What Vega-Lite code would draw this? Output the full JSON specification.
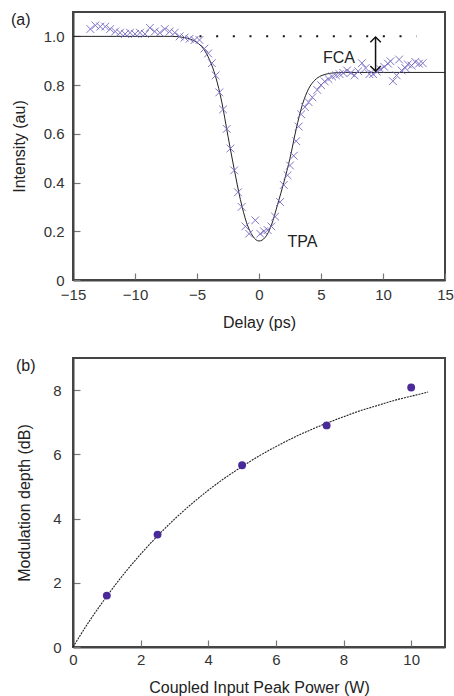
{
  "$schema": "https://vega.github.io/schema/vega-lite/v6.json",
  "padding": {"left": 10, "top": 11, "right": 5, "bottom": 0},
  "background": "white",
  "spacing": 26,
  "config": {
    "font": "Liberation Sans",
    "view": {"stroke": "#444", "strokeWidth": 2},
    "axis": {
      "grid": false,
      "labelFont": "Liberation Sans",
      "labelFontSize": 15,
      "labelColor": "#333",
      "titleFont": "Liberation Sans",
      "titleFontSize": 16,
      "titleFontWeight": "normal",
      "titleColor": "#222",
      "tickColor": "#777",
      "tickWidth": 1.2,
      "tickSize": -7,
      "domainColor": "#444",
      "domainWidth": 2,
      "labelFlush": false,
      "labelOverlap": false
    },
    "title": {"fontSize": 16, "fontWeight": "normal", "font": "Liberation Sans", "anchor": "start", "frame": "bounds", "color": "#222", "offset": 0}
  },
  "datasets": {
    "fitA": [
      {"t": -15, "I": 1.0}, {"t": -7, "I": 1.0}, {"t": -6, "I": 0.995}, {"t": -5.5, "I": 0.988},
      {"t": -5, "I": 0.975}, {"t": -4.5, "I": 0.95}, {"t": -4, "I": 0.905}, {"t": -3.5, "I": 0.835},
      {"t": -3, "I": 0.73}, {"t": -2.5, "I": 0.59}, {"t": -2, "I": 0.455}, {"t": -1.5, "I": 0.33},
      {"t": -1, "I": 0.235}, {"t": -0.5, "I": 0.18}, {"t": 0, "I": 0.16}, {"t": 0.5, "I": 0.175},
      {"t": 1, "I": 0.225}, {"t": 1.5, "I": 0.31}, {"t": 2, "I": 0.40}, {"t": 2.5, "I": 0.50},
      {"t": 3, "I": 0.62}, {"t": 3.5, "I": 0.72}, {"t": 4, "I": 0.785}, {"t": 4.5, "I": 0.82},
      {"t": 5, "I": 0.838}, {"t": 5.5, "I": 0.846}, {"t": 6, "I": 0.85}, {"t": 7, "I": 0.852}, {"t": 15, "I": 0.852}
    ],
    "dataA": [
      {"t": -13.6, "I": 1.03}, {"t": -13.2, "I": 1.045}, {"t": -12.8, "I": 1.04}, {"t": -12.4, "I": 1.04},
      {"t": -12.0, "I": 1.03}, {"t": -11.6, "I": 1.02}, {"t": -11.2, "I": 1.015}, {"t": -10.8, "I": 1.01},
      {"t": -10.4, "I": 1.015}, {"t": -10.0, "I": 1.01}, {"t": -9.6, "I": 1.015}, {"t": -9.2, "I": 1.01},
      {"t": -8.8, "I": 1.035}, {"t": -8.4, "I": 1.02}, {"t": -8.0, "I": 1.015}, {"t": -7.6, "I": 1.03},
      {"t": -7.2, "I": 1.02}, {"t": -6.8, "I": 1.015}, {"t": -6.4, "I": 1.0}, {"t": -6.0, "I": 0.995},
      {"t": -5.6, "I": 0.99}, {"t": -5.2, "I": 0.985}, {"t": -4.8, "I": 0.985},
      {"t": -4.4, "I": 0.95}, {"t": -4.1, "I": 0.93}, {"t": -3.8, "I": 0.89}, {"t": -3.5, "I": 0.84},
      {"t": -3.2, "I": 0.77}, {"t": -2.9, "I": 0.70}, {"t": -2.6, "I": 0.62}, {"t": -2.3, "I": 0.54},
      {"t": -2.0, "I": 0.45}, {"t": -1.7, "I": 0.36}, {"t": -1.4, "I": 0.30}, {"t": -1.1, "I": 0.22},
      {"t": -0.8, "I": 0.19}, {"t": -0.3, "I": 0.245}, {"t": 0.1, "I": 0.19}, {"t": 0.4, "I": 0.20},
      {"t": 0.7, "I": 0.205}, {"t": 1.0, "I": 0.22}, {"t": 1.3, "I": 0.26}, {"t": 1.7, "I": 0.32},
      {"t": 2.0, "I": 0.39}, {"t": 2.3, "I": 0.43}, {"t": 2.5, "I": 0.47}, {"t": 2.8, "I": 0.51},
      {"t": 3.0, "I": 0.57}, {"t": 3.2, "I": 0.63}, {"t": 3.4, "I": 0.68}, {"t": 3.7, "I": 0.71},
      {"t": 4.0, "I": 0.73}, {"t": 4.3, "I": 0.75}, {"t": 4.7, "I": 0.78}, {"t": 5.0, "I": 0.80},
      {"t": 5.3, "I": 0.815}, {"t": 5.6, "I": 0.825}, {"t": 5.9, "I": 0.835}, {"t": 6.2, "I": 0.84},
      {"t": 6.5, "I": 0.845}, {"t": 6.8, "I": 0.85}, {"t": 7.1, "I": 0.86}, {"t": 7.4, "I": 0.85},
      {"t": 7.7, "I": 0.84}, {"t": 8.0, "I": 0.857}, {"t": 8.3, "I": 0.89}, {"t": 8.6, "I": 0.87},
      {"t": 8.9, "I": 0.845}, {"t": 9.2, "I": 0.845}, {"t": 9.5, "I": 0.855}, {"t": 9.8, "I": 0.865},
      {"t": 10.1, "I": 0.875}, {"t": 10.4, "I": 0.888}, {"t": 10.6, "I": 0.898}, {"t": 10.8, "I": 0.816},
      {"t": 11.1, "I": 0.84}, {"t": 11.3, "I": 0.905}, {"t": 11.5, "I": 0.86}, {"t": 11.8, "I": 0.87},
      {"t": 12.0, "I": 0.885}, {"t": 12.3, "I": 0.88}, {"t": 12.6, "I": 0.895}, {"t": 12.9, "I": 0.888},
      {"t": 13.2, "I": 0.89}
    ],
    "dotsA": [{"t": -4.8, "t2": 12.7, "I": 1.0}],
    "arrowA": [{"t": 9.4, "I": 0.857, "I2": 0.997}],
    "headUp": [{"t": 9.4, "I": 0.997}],
    "headDown": [{"t": 9.4, "I": 0.857}],
    "labelsA": [{"t": 6.45, "I": 0.91, "txt": "FCA"}, {"t": 3.5, "I": 0.155, "txt": "TPA"}],
    "fitB": [
      {"P": 0, "M": 0}, {"P": 0.5, "M": 0.83}, {"P": 1, "M": 1.58}, {"P": 1.5, "M": 2.27},
      {"P": 2, "M": 2.89}, {"P": 2.5, "M": 3.46}, {"P": 3, "M": 3.98}, {"P": 3.5, "M": 4.45},
      {"P": 4, "M": 4.88}, {"P": 4.5, "M": 5.27}, {"P": 5, "M": 5.62}, {"P": 5.5, "M": 5.95},
      {"P": 6, "M": 6.24}, {"P": 6.5, "M": 6.51}, {"P": 7, "M": 6.75}, {"P": 7.5, "M": 6.97},
      {"P": 8, "M": 7.17}, {"P": 8.5, "M": 7.36}, {"P": 9, "M": 7.52}, {"P": 9.5, "M": 7.68},
      {"P": 10, "M": 7.81}, {"P": 10.5, "M": 7.94}
    ],
    "dataB": [
      {"P": 1, "M": 1.6}, {"P": 2.5, "M": 3.5}, {"P": 5, "M": 5.66}, {"P": 7.5, "M": 6.9}, {"P": 10, "M": 8.08}
    ]
  },
  "vconcat": [
    {
      "width": 372,
      "height": 268,
      "title": {"text": "(a)", "dy": 20},
      "layer": [
        {
          "data": {"name": "fitA"},
          "mark": {"type": "line", "color": "#222", "strokeWidth": 1, "interpolate": "monotone"},
          "encoding": {
            "x": {"field": "t", "type": "quantitative", "scale": {"domain": [-15, 15], "nice": false},
              "axis": {"orient": "bottom", "values": [-15, -10, -5, 0, 5, 10, 15], "title": "Delay (ps)",
                "domain": true, "ticks": true,
                "titleY": 47, "titleBaseline": "alphabetic", "labelPadding": 14.5}},
            "y": {"field": "I", "type": "quantitative", "scale": {"domain": [0, 1.1], "nice": false},
              "axis": {"orient": "left", "values": [0, 0.2, 0.4, 0.6, 0.8, 1.0], "title": "Intensity (au)",
                "domain": true, "ticks": true,
                "labelExpr": "datum.value == 0 ? '0' : format(datum.value, '.1f')",
                "titleX": -49, "titleBaseline": "alphabetic", "labelPadding": 16}}
          }
        },
        {
          "data": {"name": "dataA"},
          "mark": {"type": "point", "shape": "M-1,-1L1,1M-1,1L1,-1", "filled": false, "size": 60, "color": "#7368c2", "strokeWidth": 1, "opacity": 0.9},
          "encoding": {
            "x": {"field": "t", "type": "quantitative"},
            "y": {"field": "I", "type": "quantitative"}
          }
        },
        {
          "data": {"name": "dotsA"},
          "mark": {"type": "rule", "color": "#111", "strokeWidth": 2, "strokeDash": [2, 14.67]},
          "encoding": {
            "x": {"field": "t", "type": "quantitative"},
            "x2": {"field": "t2"},
            "y": {"field": "I", "type": "quantitative"}
          }
        },
        {
          "data": {"name": "arrowA"},
          "mark": {"type": "rule", "color": "#111", "strokeWidth": 1.5},
          "encoding": {
            "x": {"field": "t", "type": "quantitative"},
            "y": {"field": "I", "type": "quantitative"},
            "y2": {"field": "I2"}
          }
        },
        {
          "data": {"name": "headUp"},
          "mark": {"type": "point", "shape": "M-1,1L0,0L1,1", "filled": false, "size": 110, "color": "#111", "strokeWidth": 1.5, "opacity": 1},
          "encoding": {
            "x": {"field": "t", "type": "quantitative"},
            "y": {"field": "I", "type": "quantitative"}
          }
        },
        {
          "data": {"name": "headDown"},
          "mark": {"type": "point", "shape": "M-1,-1L0,0L1,-1", "filled": false, "size": 110, "color": "#111", "strokeWidth": 1.5, "opacity": 1},
          "encoding": {
            "x": {"field": "t", "type": "quantitative"},
            "y": {"field": "I", "type": "quantitative"}
          }
        },
        {
          "data": {"name": "labelsA"},
          "mark": {"type": "text", "fontSize": 16, "color": "#222", "align": "center", "baseline": "middle", "font": "Liberation Sans"},
          "encoding": {
            "x": {"field": "t", "type": "quantitative"},
            "y": {"field": "I", "type": "quantitative"},
            "text": {"field": "txt"}
          }
        }
      ]
    },
    {
      "width": 372,
      "height": 289,
      "title": {"text": "(b)", "dy": 20},
      "layer": [
        {
          "data": {"name": "fitB"},
          "mark": {"type": "line", "color": "#222", "strokeWidth": 1.1, "strokeDash": [2, 1], "interpolate": "monotone"},
          "encoding": {
            "x": {"field": "P", "type": "quantitative", "scale": {"domain": [0, 11], "nice": false},
              "axis": {"orient": "bottom", "values": [0, 2, 4, 6, 8, 10], "title": "Coupled Input Peak Power (W)",
                "domain": true, "ticks": true,
                "titleY": 45, "titleBaseline": "alphabetic", "labelPadding": 12}},
            "y": {"field": "M", "type": "quantitative", "scale": {"domain": [0, 9], "nice": false},
              "axis": {"orient": "left", "values": [0, 1, 2, 3, 4, 5, 6, 7, 8], "title": "Modulation depth (dB)",
                "domain": true, "ticks": true,
                "labelExpr": "datum.value % 2 == 0 ? datum.label : ''",
                "titleX": -44, "titleBaseline": "alphabetic", "labelPadding": 19}}
          }
        },
        {
          "data": {"name": "dataB"},
          "mark": {"type": "circle", "size": 62, "color": "#4a2a98", "opacity": 1},
          "encoding": {
            "x": {"field": "P", "type": "quantitative"},
            "y": {"field": "M", "type": "quantitative"}
          }
        }
      ]
    }
  ]
}
